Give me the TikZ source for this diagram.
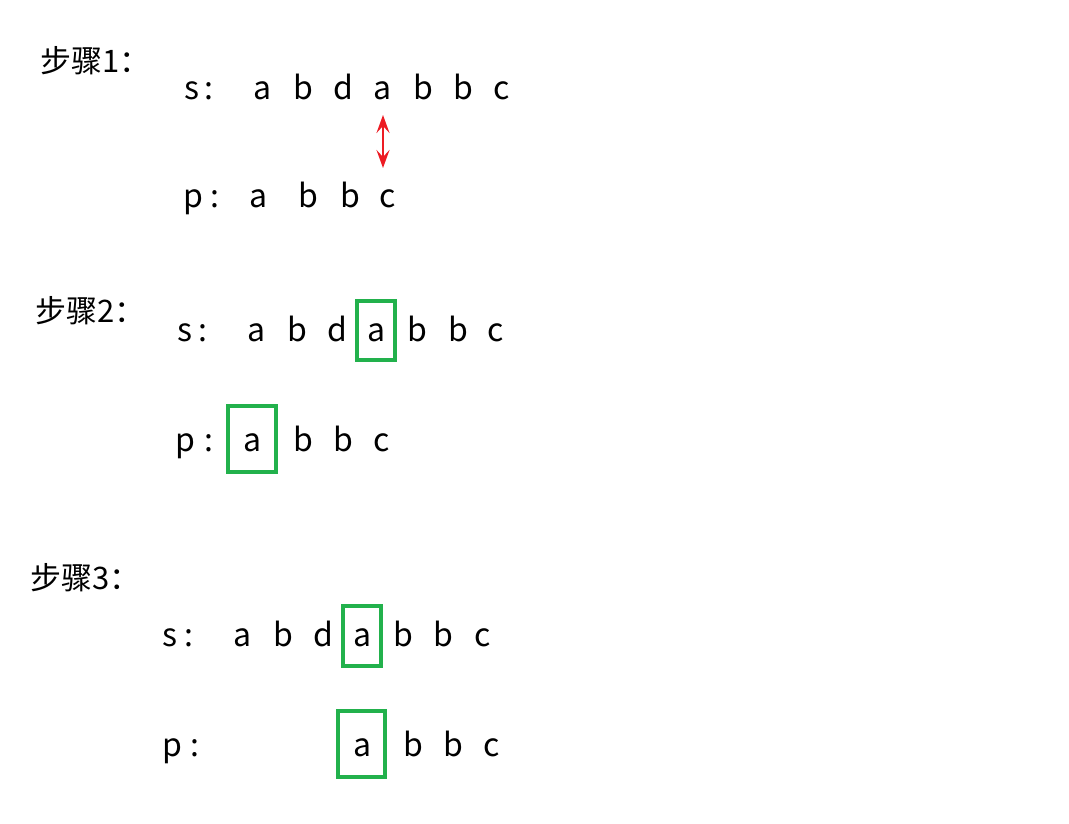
\documentclass[tikz,border=0pt]{standalone}
\usepackage{fontspec}
\setmainfont{Noto Sans CJK SC}
\usetikzlibrary{arrows.meta}
\definecolor{boxgreen}{HTML}{22B14C}
\definecolor{arrred}{HTML}{ED1C24}
\tikzset{
  ch/.style={inner sep=0pt, anchor=base, font=\fontsize{32bp}{38bp}\selectfont},
  head/.style={inner sep=0pt, anchor=base west, font=\fontsize{31bp}{37bp}\selectfont},
  gbox/.style={draw=boxgreen, line width=4bp, rectangle, inner sep=0pt},
  redarrow/.style={draw=arrred, line width=2.5bp, {Stealth[length=18bp,width=13bp,inset=7bp]}-{Stealth[length=18bp,width=13bp,inset=7bp]}}
}
\begin{document}
\begin{tikzpicture}[x=1bp,y=-1bp]
\useasboundingbox[fill=white] (0,0) rectangle (1069,824);
% ---------- step 1 ----------
\node[head] (h1) at (40,72) {步骤1：};
\node[ch] (s1l) at (192,99) {s};
\node[ch] (s1c) at (209,99) {:};
\foreach \x/\t [count=\i] in {263/a,303/b,343/d,383/a,423/b,463/b,502/c}
  \node[ch] (s1-\i) at (\x,99) {\t};
\node[ch] (p1l) at (193,207) {p};
\node[ch] (p1c) at (215,207) {:};
\foreach \x/\t [count=\i] in {259/a,308/b,350/b,388/c}
  \node[ch] (p1-\i) at (\x,207) {\t};
\coordinate (arrTop) at (383,115);
\coordinate (arrBot) at (383,168);
\draw[redarrow] (arrTop) -- (arrBot);
% ---------- step 2 ----------
\node[head] (h2) at (35,322) {步骤2：};
\node[ch] (s2l) at (185,341) {s};
\node[ch] (s2c) at (203,341) {:};
\foreach \x/\t [count=\i] in {257/a,297/b,337/d,377/a,417/b,458/b,496/c}
  \node[ch] (s2-\i) at (\x,341) {\t};
\node[ch] (p2l) at (185,451) {p};
\node[ch] (p2c) at (209,451) {:};
\foreach \x/\t [count=\i] in {253/a,303/b,343/b,382/c}
  \node[ch] (p2-\i) at (\x,451) {\t};
\node[gbox, minimum width=38bp, minimum height=59bp] (b2s) at (376,330.5) {};
\node[gbox, minimum width=48bp, minimum height=66bp] (b2p) at (252,439) {};
% ---------- step 3 ----------
\node[head] (h3) at (30,589) {步骤3：};
\node[ch] (s3l) at (170,646) {s};
\node[ch] (s3c) at (189,646) {:};
\foreach \x/\t [count=\i] in {243/a,283/b,323/d,363/a,403/b,443/b,483/c}
  \node[ch] (s3-\i) at (\x,646) {\t};
\node[ch] (p3l) at (172,756) {p};
\node[ch] (p3c) at (195,756) {:};
\foreach \x/\t [count=\i] in {363/a,413/b,453/b,492/c}
  \node[ch] (p3-\i) at (\x,756) {\t};
\node[gbox, minimum width=38bp, minimum height=60bp] (b3s) at (362,636) {};
\node[gbox, minimum width=47bp, minimum height=66bp] (b3p) at (361.5,744) {};
\end{tikzpicture}
\end{document}
